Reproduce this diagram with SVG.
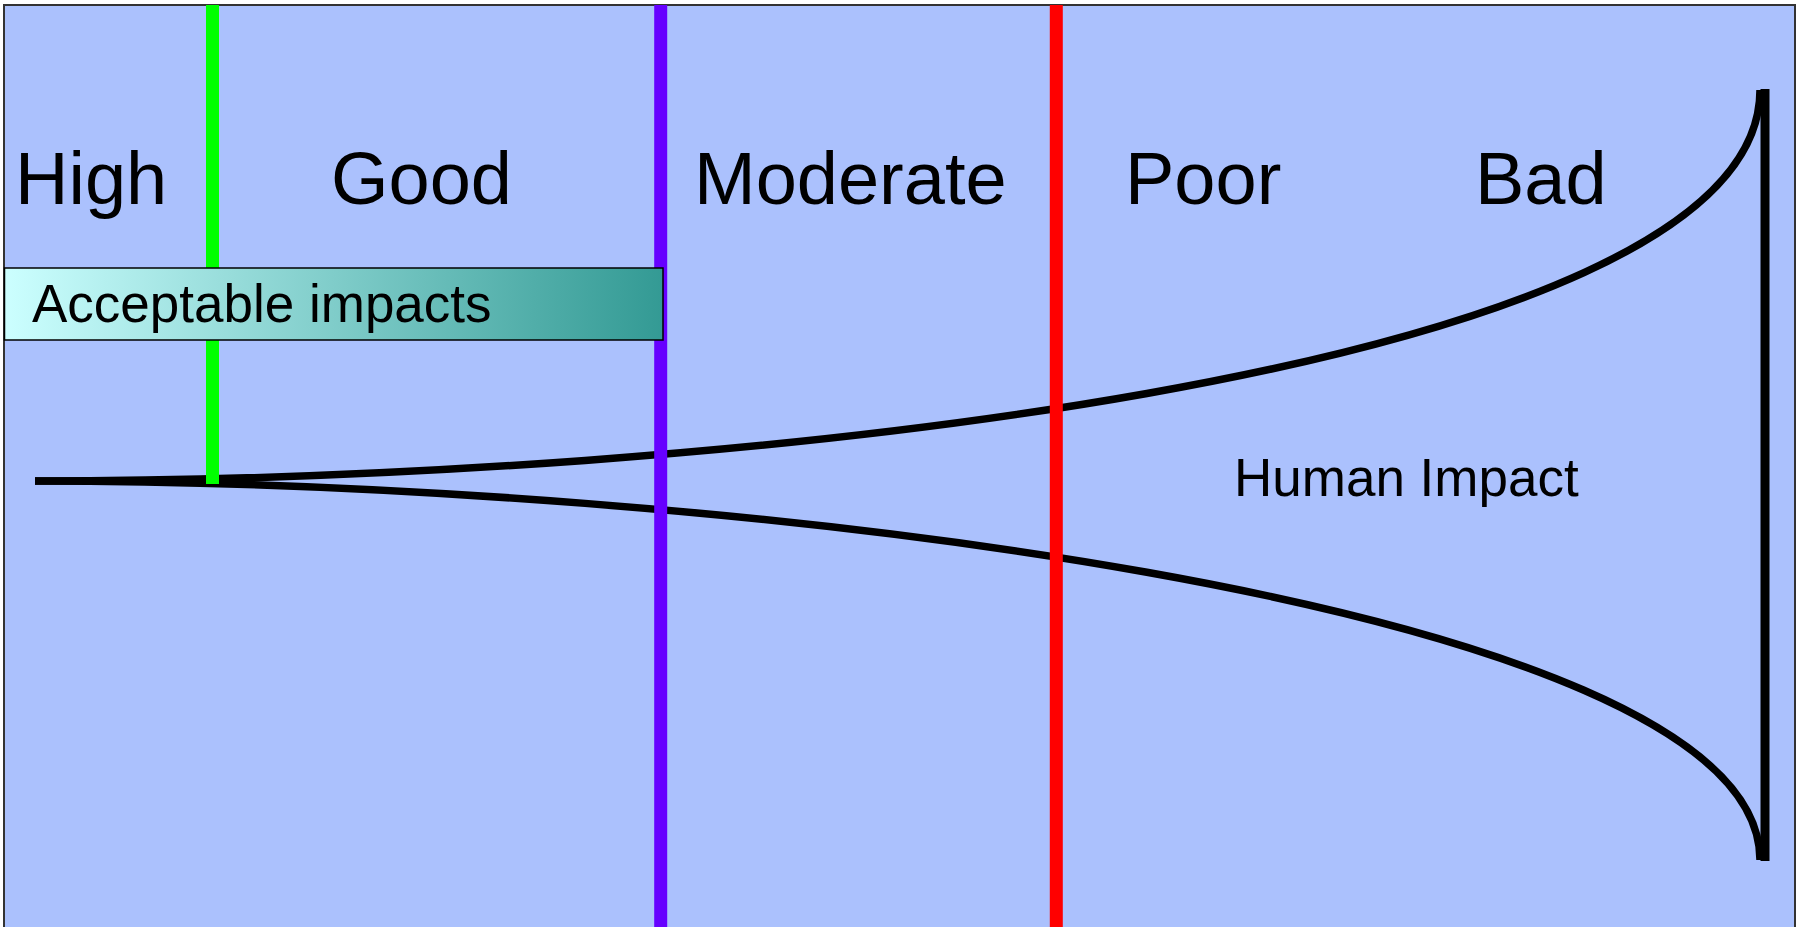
<svg xmlns="http://www.w3.org/2000/svg" width="1798" height="927" viewBox="0 0 1798 927">
  <defs>
    <linearGradient id="accGrad" x1="0" y1="0" x2="1" y2="0">
      <stop offset="0" stop-color="#CCFFFF"/>
      <stop offset="1" stop-color="#339A94"/>
    </linearGradient>
    <style>
      .big { font-family: "Liberation Sans", Arial, sans-serif; font-size: 74px; fill: #000; }
      .mid { font-family: "Liberation Sans", Arial, sans-serif; font-size: 53px; fill: #000; }
      .curve { fill: none; stroke: #000; stroke-width: 7.5; }
      .vline { stroke-width: 13; fill: none; }
    </style>
  </defs>
  <rect id="background" x="4" y="5" width="1791" height="940" fill="#ABC1FD" stroke="#333" stroke-width="2"/>
  <g id="connectors">
    <path id="upper-curve" class="curve" d="M35,481 C700,481 1760,378 1760,90"/>
    <path id="lower-curve" class="curve" d="M35,481 C700,481 1760,598 1760,860"/>
    <line id="right-bar" x1="1765" y1="89" x2="1765" y2="861" stroke="#000" stroke-width="9"/>
  </g>
  <g id="thresholds">
    <line id="green-line" class="vline" x1="212.5" y1="5" x2="212.5" y2="484" stroke="#00FF00" stroke-width="12"/>
    <line id="purple-line" class="vline" x1="660.7" y1="5" x2="660.7" y2="927" stroke="#6600FF"/>
    <line id="red-line" class="vline" x1="1056.3" y1="5" x2="1056.3" y2="927" stroke="#FF0000"/>
  </g>
  <g id="labels">
    <text class="big" x="15" y="204">High</text>
    <text class="big" x="331" y="204">Good</text>
    <text class="big" x="694" y="204">Moderate</text>
    <text class="big" x="1125" y="204">Poor</text>
    <text class="big" x="1475" y="204">Bad</text>
  </g>
  <g id="acceptable-impacts">
    <rect x="4.5" y="268" width="658.5" height="72" fill="url(#accGrad)" stroke="#000" stroke-width="1.5"/>
    <text class="mid" x="32" y="322">Acceptable impacts</text>
  </g>
  <g id="human-impact">
    <text class="mid" x="1234" y="496">Human Impact</text>
  </g>
</svg>
